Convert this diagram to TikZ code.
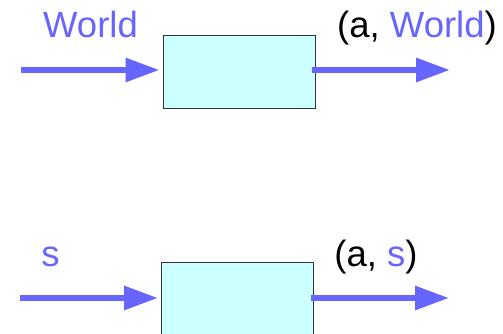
\documentclass[tikz,border=0pt]{standalone}
\usepackage{fontspec}
\setmainfont{Liberation Sans}
\usetikzlibrary{arrows.meta}
\definecolor{flowblue}{HTML}{6666FF}
\definecolor{boxfill}{HTML}{CCFFFF}
\definecolor{boxline}{HTML}{333333}
\begin{document}
\begin{tikzpicture}[x=1pt,y=-1pt,
  procbox/.style={draw=boxline,line width=0.9pt,fill=boxfill,minimum width=152pt,minimum height=73pt,inner sep=0pt},
  flow/.style={draw=flowblue,line width=6pt,-{Triangle[length=34pt,width=23pt]}},
  lbl/.style={font=\fontsize{36.5}{40}\selectfont,anchor=base,inner sep=0pt}]
\useasboundingbox (0,0) rectangle (503,334);
% top
\node[procbox] (b1) at (239,71.5) {};
\coordinate (i1) at (21,70);
\coordinate (o1) at (450,70);
\draw[flow,shorten >=3pt] (i1) -- (i1 -| b1.west);
\draw[flow] (o1 -| b1.east) ++(-3,0) -- (o1);
\node[lbl,text=flowblue] (t1) at (90.5,38) {World};
\node[lbl] (t2) at (417,38) {(a, \textcolor{flowblue}{World})};
% bottom
\node[procbox] (b2) at (237.5,298.5) {};
\coordinate (i2) at (20,298);
\coordinate (o2) at (449,298);
\draw[flow,shorten >=3pt] (i2) -- (i2 -| b2.west);
\draw[flow] (o2 -| b2.east) ++(-3,0) -- (o2);
\node[lbl,text=flowblue] (t3) at (50.5,266) {s};
\node[lbl] (t4) at (376,266) {(a, \textcolor{flowblue}{s})};
\end{tikzpicture}
\end{document}
